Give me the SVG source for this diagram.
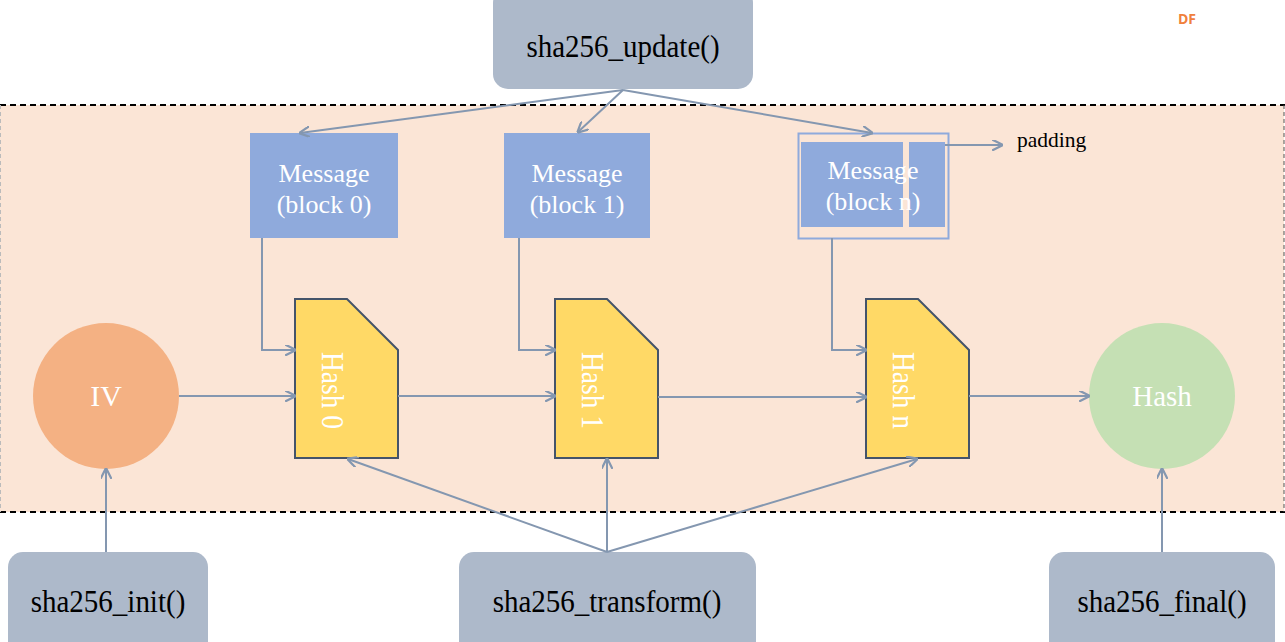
<svg xmlns="http://www.w3.org/2000/svg" width="1285" height="642" viewBox="0 0 1285 642">
<defs>
<style>
.fn{fill:#ADB9CA}
.fnt{font-family:"Liberation Serif",serif;font-size:29px;fill:#000;text-anchor:middle}
.msg{fill:#8FAADC}
.wt{font-family:"Liberation Serif",serif;fill:#fff;text-anchor:middle}
.ht{font-family:"Liberation Serif",serif;fill:#fff;font-size:27.5px}
.hb{fill:#FFD966;stroke:#44546A;stroke-width:2}
.c{stroke:#8497B0;stroke-width:2;fill:none;marker-end:url(#ah)}
</style>
<marker id="ah" viewBox="0 0 10 10" refX="9" refY="5" markerWidth="5.5" markerHeight="5.5" orient="auto" markerUnits="strokeWidth">
<path d="M0,0 L10,5 L0,10" fill="none" stroke="#8497B0" stroke-width="2"/>
</marker>
</defs>
<rect width="1285" height="642" fill="#fff"/>
<g id="region">
<rect x="0" y="105" width="1284" height="407" fill="#FBE5D6"/>
<line x1="0" y1="105" x2="1285" y2="105" stroke="#000" stroke-width="2" stroke-dasharray="6,4"/>
<line x1="0" y1="512" x2="1285" y2="512" stroke="#000" stroke-width="2" stroke-dasharray="6,4"/>
<line x1="0.5" y1="105" x2="0.5" y2="512" stroke="#bbb" stroke-width="1" stroke-dasharray="4,3"/>
<line x1="1284" y1="105" x2="1284" y2="512" stroke="#555" stroke-width="1" stroke-dasharray="4,3"/>
</g>
<g id="update"><rect class="fn" x="493" y="-12" width="260" height="101" rx="15"/><text class="fnt" transform="translate(623,57) scale(1,1.08)">sha256_update()</text></g>
<g id="init"><rect class="fn" x="8" y="552" width="200" height="104" rx="15"/><text class="fnt" transform="translate(108,612) scale(1,1.08)">sha256_init()</text></g>
<g id="transform"><rect class="fn" x="459" y="552" width="297" height="104" rx="15"/><text class="fnt" transform="translate(607,612) scale(1,1.08)">sha256_transform()</text></g>
<g id="final"><rect class="fn" x="1049" y="552" width="226" height="104" rx="15"/><text class="fnt" transform="translate(1162,612) scale(1,1.08)">sha256_final()</text></g>
<g id="msg0"><rect class="msg" x="250" y="133" width="148" height="105"/><text class="wt" font-size="26" x="324" y="182">Message</text><text class="wt" font-size="26" x="324" y="213">(block 0)</text></g>
<g id="msg1"><rect class="msg" x="504" y="133" width="146" height="105"/><text class="wt" font-size="26" x="577" y="182">Message</text><text class="wt" font-size="26" x="577" y="213">(block 1)</text></g>
<g id="msgn">
<rect x="798.5" y="133.5" width="150" height="105" fill="none" stroke="#8FAADC" stroke-width="2"/>
<rect class="msg" x="801" y="142" width="102" height="85"/>
<rect class="msg" x="909" y="142" width="36" height="85"/>
<text class="wt" font-size="26" x="873" y="179">Message</text><text class="wt" font-size="26" x="873" y="210">(block n)</text>
</g>
<g id="paddinglabel"><text x="1017" y="147" font-family="Liberation Serif,serif" font-size="21.5" fill="#000">padding</text></g>
<g id="iv"><circle cx="106" cy="396" r="73" fill="#F4B183"/><text class="wt" font-size="30" x="106" y="406">IV</text></g>
<g id="hash"><circle cx="1162" cy="396" r="73" fill="#C5E0B4"/><text class="wt" font-size="29" x="1162" y="406">Hash</text></g>
<g id="hash0"><path class="hb" d="M295,299 H347 L398,350 V458 H295 Z"/><text class="ht" transform="translate(322,352) rotate(90) scale(1,1.12)">Hash 0</text></g>
<g id="hash1"><path class="hb" d="M555,299 H607 L658,350 V458 H555 Z"/><text class="ht" transform="translate(582,352) rotate(90) scale(1,1.12)">Hash 1</text></g>
<g id="hashn"><path class="hb" d="M866,299 H918 L969,350 V458 H866 Z"/><text class="ht" transform="translate(893,352) rotate(90) scale(1,1.12)">Hash n</text></g>
<g id="connectors">
<path class="c" d="M623,90 L300,133"/>
<path class="c" d="M623,90 L578,132"/>
<path class="c" d="M623,90 L872,133"/>
<path class="c" d="M945,145 L1002,145"/>
<path class="c" d="M262,238 V350 H295"/>
<path class="c" d="M519,238 V350 H555"/>
<path class="c" d="M832,238 V350 H866"/>
<path class="c" d="M179,396 H295"/>
<path class="c" d="M398,396 H555"/>
<path class="c" d="M658,397 H866"/>
<path class="c" d="M969,396 H1089"/>
<path class="c" d="M106,552 V469"/>
<path class="c" d="M1162,552 V469"/>
<path class="c" d="M607,552 L348,459"/>
<path class="c" d="M607,552 V459"/>
<path class="c" d="M607,552 L917,459"/>
</g>
<g id="watermark"><text x="1178" y="24" font-family="Open Sans,sans-serif" font-weight="bold" font-size="14" fill="#F0803C">DF</text></g>
</svg>
